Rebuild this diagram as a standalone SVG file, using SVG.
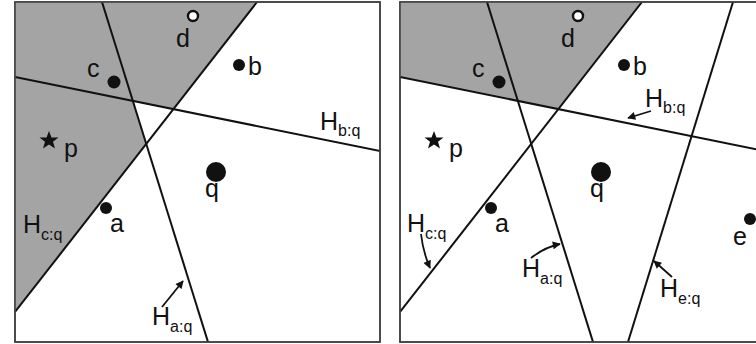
<svg xmlns="http://www.w3.org/2000/svg" width="756" height="344" viewBox="0 0 756 344">
<defs>
<style>
.frame{fill:#fff;stroke:#444;stroke-width:1.6}
.shade{fill:#a4a4a4;stroke:none}
.ln{stroke:#111;stroke-width:2;fill:none}
.arr{stroke:#111;stroke-width:1.8;fill:none;marker-end:url(#ah)}
.pt{fill:#111}
.lbl{font-family:"Liberation Sans",Arial,sans-serif;font-size:25px;fill:#111}
.sub{font-size:16px}
</style>
<marker id="ah" viewBox="0 0 10 10" refX="9" refY="5" markerWidth="9" markerHeight="8" markerUnits="userSpaceOnUse" orient="auto">
<path d="M0,0 L10,5 L0,10 z" fill="#111"/>
</marker>
<clipPath id="cl"><rect x="15" y="2" width="365" height="340"/></clipPath>
<clipPath id="cr"><rect x="400" y="2" width="370" height="340"/></clipPath>
</defs>

<g id="left-panel">
<rect class="frame" x="15" y="2" width="365" height="340"/>
<polygon class="shade" points="15,2 257,2 173.4,109.1 132.8,100.9 146.2,143.9 15,312"/>
<g clip-path="url(#cl)">
<line class="ln" x1="102" y1="2" x2="208" y2="342"/>
<line class="ln" x1="15" y1="77" x2="381" y2="151.2"/>
<line class="ln" x1="15" y1="312" x2="257" y2="2"/>
</g>
<rect x="15" y="2" width="365" height="340" fill="none" stroke="#444" stroke-width="1.6"/>
</g>

<g id="right-panel">
<rect class="frame" x="400" y="2" width="370" height="340"/>
<polygon class="shade" points="400,2 642,2 558.4,109.1 400,77"/>
<g clip-path="url(#cr)">
<line class="ln" x1="487" y1="2" x2="593" y2="342"/>
<line class="ln" x1="400" y1="77" x2="770" y2="152"/>
<line class="ln" x1="400" y1="312" x2="642" y2="2"/>
<line class="ln" x1="733" y1="2" x2="628" y2="342"/>
</g>
<rect x="400" y="2" width="370" height="340" fill="none" stroke="#444" stroke-width="1.6"/>
</g>

<g id="left-points">
<g id="L-d"><circle cx="193" cy="16" r="5" fill="#fff" stroke="#111" stroke-width="2.4"/><text class="lbl" x="176" y="47">d</text></g>
<g id="L-b"><circle class="pt" cx="239" cy="65" r="6"/><text class="lbl" x="248" y="75">b</text></g>
<g id="L-c"><circle class="pt" cx="114" cy="82" r="6.5"/><text class="lbl" x="87" y="77">c</text></g>
<g id="L-p"><polygon class="pt" points="49,131 51.5,137.4 58.5,137.5 53,141.8 55,148.5 49,144.5 43,148.5 45,141.8 39.5,137.5 46.5,137.4"/><text class="lbl" x="64" y="157">p</text></g>
<g id="L-q"><circle class="pt" cx="216" cy="172" r="10"/><text class="lbl" x="205" y="197">q</text></g>
<g id="L-a"><circle class="pt" cx="106" cy="208" r="6"/><text class="lbl" x="110" y="232">a</text></g>
<g id="L-Hcq"><text class="lbl" x="23" y="233">H<tspan class="sub" dy="7">c:q</tspan></text></g>
<g id="L-Hbq"><text class="lbl" x="320" y="130">H<tspan class="sub" dy="6">b:q</tspan></text></g>
<g id="L-Haq"><text class="lbl" x="152" y="325">H<tspan class="sub" dy="7">a:q</tspan></text></g>
</g>

<g id="right-points">
<g id="R-d"><circle cx="578" cy="16" r="5" fill="#fff" stroke="#111" stroke-width="2.4"/><text class="lbl" x="561" y="47">d</text></g>
<g id="R-b"><circle class="pt" cx="624" cy="65" r="6"/><text class="lbl" x="633" y="75">b</text></g>
<g id="R-c"><circle class="pt" cx="499" cy="82" r="6.5"/><text class="lbl" x="472" y="77">c</text></g>
<g id="R-p"><polygon class="pt" points="434,131 436.5,137.4 443.5,137.5 438,141.8 440,148.5 434,144.5 428,148.5 430,141.8 424.5,137.5 431.5,137.4"/><text class="lbl" x="449" y="157">p</text></g>
<g id="R-q"><circle class="pt" cx="601" cy="172" r="10"/><text class="lbl" x="590" y="197">q</text></g>
<g id="R-a"><circle class="pt" cx="491" cy="208" r="6"/><text class="lbl" x="495" y="232">a</text></g>
<g id="R-e"><circle class="pt" cx="750" cy="219" r="6"/><text class="lbl" x="733" y="245">e</text></g>
<g id="R-Hcq"><text class="lbl" x="407" y="232">H<tspan class="sub" dy="7">c:q</tspan></text></g>
<g id="R-Hbq"><text class="lbl" x="645" y="107">H<tspan class="sub" dy="6">b:q</tspan></text></g>
<g id="R-Haq"><text class="lbl" x="522" y="277">H<tspan class="sub" dy="7">a:q</tspan></text></g>
<g id="R-Heq"><text class="lbl" x="660" y="297">H<tspan class="sub" dy="7">e:q</tspan></text></g>
</g>

<g id="connectors">
<path class="arr" d="M162,307 L183,281"/>
<path class="arr" d="M651,111 L628,118"/>
<path class="arr" d="M421,234 Q423,252 430,268"/>
<path class="arr" d="M531,258 Q545,247 560,244"/>
<path class="arr" d="M672,277 L654,261"/>
</g>
</svg>
